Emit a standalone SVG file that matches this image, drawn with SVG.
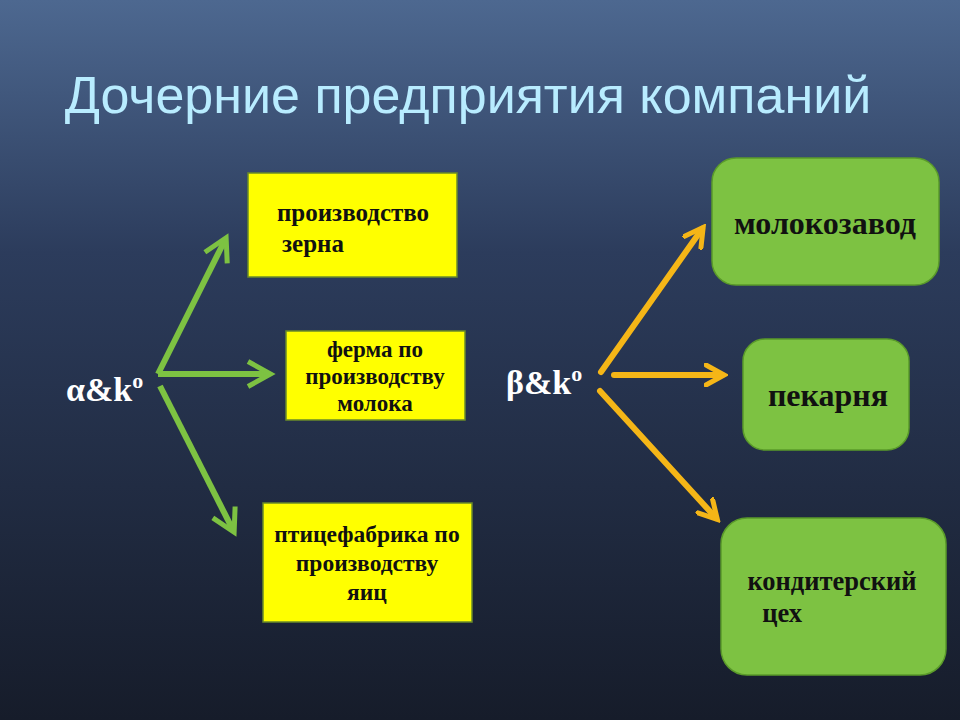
<svg xmlns="http://www.w3.org/2000/svg" width="960" height="720" viewBox="0 0 960 720">
<defs>
<linearGradient id="bg" x1="0" y1="0" x2="0" y2="1"><stop offset="0" stop-color="#4d6890"/><stop offset="0.35" stop-color="#2c3c5c"/><stop offset="1" stop-color="#161c2a"/></linearGradient>
<marker id="gh" viewBox="0 0 12 12" refX="9" refY="6" markerWidth="5" markerHeight="5" orient="auto" markerUnits="strokeWidth"><path d="M1,1 L10,6 L1,11" fill="none" stroke="#7dc242" stroke-width="2"/></marker>
<marker id="yh" viewBox="0 0 12 12" refX="9" refY="6" markerWidth="4" markerHeight="4" orient="auto" markerUnits="strokeWidth"><path d="M1,1 L10,6 L1,11" fill="none" stroke="#f5b617" stroke-width="2.5" stroke-linecap="round"/></marker>
</defs>
<style>
.y{fill:#ffff00;stroke:#6a8a2a;stroke-width:1.5}
.g{fill:#7dc242;stroke:#5a9a2a;stroke-width:1.5}
.t{font-family:"Liberation Serif",serif;font-weight:bold;fill:#111;text-anchor:middle}
.w{font-family:"Liberation Serif",serif;font-weight:bold;fill:#fff;font-size:34px}
.ga{stroke:#7dc242;stroke-width:6;fill:none;marker-end:url(#gh)}
.ya{stroke:#f5b617;stroke-width:6;fill:none;marker-end:url(#yh);stroke-linecap:round}
</style>
<rect width="960" height="720" fill="url(#bg)"/>
<text x="468" y="113" font-family="Liberation Sans,sans-serif" font-size="52" fill="#b8ecff" text-anchor="middle">Дочерние предприятия компаний</text>
<g id="connectors">
<path class="ga" d="M158,374 L225,240"/>
<path class="ga" d="M158,374 L268,374"/>
<path class="ga" d="M160,386 L233,530"/>
<path class="ya" d="M601,372 L702,229"/>
<path class="ya" d="M614,375 L722,375"/>
<path class="ya" d="M600,391 L716,518"/>
</g>
<g id="src-a"><text class="w" x="66" y="401">α&amp;k<tspan font-size="22" dy="-13">o</tspan></text></g>
<g id="src-b"><text class="w" x="506" y="394">β&amp;k<tspan font-size="22" dy="-13">o</tspan></text></g>
<g id="n1"><rect class="y" x="248" y="173" width="209" height="104"/><text class="t" font-size="25" x="353" y="221">производство</text><text class="t" font-size="25" x="353" y="252" dx="-40">зерна</text></g>
<g id="n2"><rect class="y" x="286" y="331" width="179" height="89"/><text class="t" font-size="23" x="375" y="357">ферма по</text><text class="t" font-size="23" x="375" y="384">производству</text><text class="t" font-size="23" x="375" y="411">молока</text></g>
<g id="n3"><rect class="y" x="263" y="503" width="209" height="119"/><text class="t" font-size="23.5" x="367" y="542">птицефабрика по</text><text class="t" font-size="23.5" x="367" y="571">производству</text><text class="t" font-size="23.5" x="367" y="600">яиц</text></g>
<g id="n4"><rect class="g" x="712" y="158" width="227" height="127" rx="24"/><text class="t" font-size="32" x="825" y="234">молокозавод</text></g>
<g id="n5"><rect class="g" x="743" y="339" width="166" height="111" rx="22"/><text class="t" font-size="32" x="828" y="406">пекарня</text></g>
<g id="n6"><rect class="g" x="721" y="518" width="225" height="157" rx="26"/><text class="t" font-size="26.5" x="832" y="590">кондитерский</text><text class="t" font-size="26.5" x="832" y="622" dx="-50">цех</text></g>
</svg>
